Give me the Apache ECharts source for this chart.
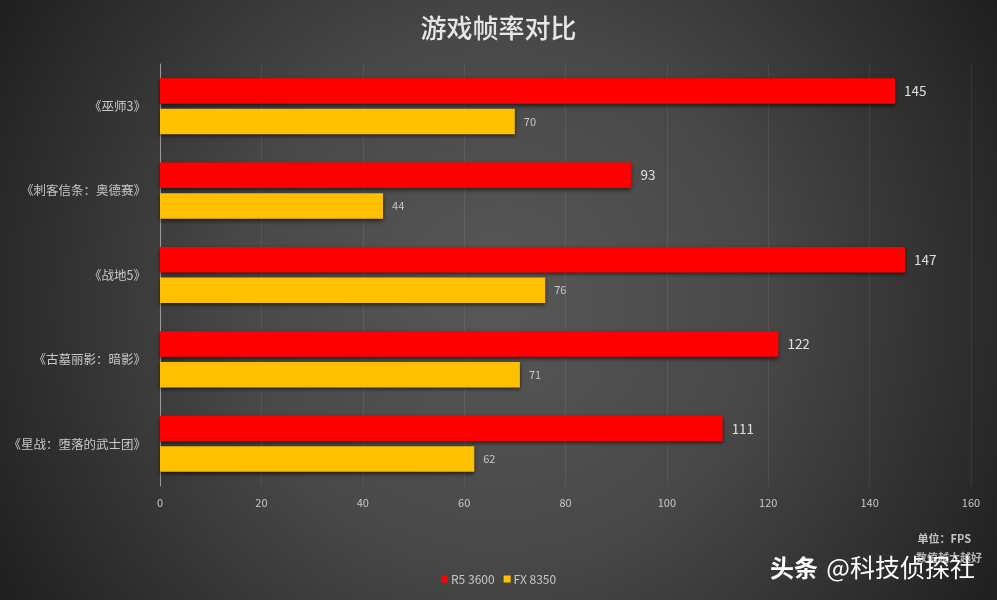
<!DOCTYPE html>
<html>
<head>
<meta charset="utf-8">
<title>游戏帧率对比</title>
<script src="https://cdn.jsdelivr.net/npm/echarts@6/dist/echarts.min.js"></script>
<style>
html, body { margin: 0; padding: 0; background: #333; }
#main { width: 997px; height: 600px; }
</style>
</head>
<body>
<div id="main"></div>
<script>
var games = ['《巫师3》', '《刺客信条：奥德赛》', '《战地5》', '《古墓丽影：暗影》', '《星战：堕落的武士团》'];
var r5 = [145, 93, 147, 122, 111];
var fx = [70, 44, 76, 71, 62];

var font = '"Noto Sans CJK SC", "Open Sans", sans-serif';
var myChart = echarts.init(document.getElementById('main'));

var option = {
    animation: false,
    backgroundColor: {
        type: 'radial',
        x: 0.5,
        y: 0.5,
        r: 0.97,
        colorStops: [
            { offset: 0, color: '#585858' },
            { offset: 0.45, color: '#484848' },
            { offset: 1, color: '#1f1f1f' }
        ]
    },
    textStyle: { fontFamily: font },
    title: {
        text: '游戏帧率对比',
        left: 'center',
        top: 10,
        textStyle: { color: '#e6e6e6', fontSize: 26, fontWeight: 500, fontFamily: font }
    },
    legend: {
        data: ['R5 3600', 'FX 8350'],
        left: 436,
        top: 568,
        itemWidth: 7,
        itemHeight: 7,
        itemGap: 9,
        icon: 'rect',
        textStyle: { color: '#c8c8c8', fontSize: 12, padding: [0, 0, 0, -2] }
    },
    grid: { left: 160, right: 26, top: 64, bottom: 114 },
    xAxis: {
        type: 'value',
        min: 0,
        max: 160,
        interval: 20,
        axisLine: { show: false },
        axisTick: { show: false },
        axisLabel: { color: '#c8c8c8', fontSize: 11, margin: 11 },
        splitLine: { show: true, lineStyle: { color: 'rgba(255,255,255,0.07)', width: 1 } }
    },
    yAxis: {
        type: 'category',
        inverse: true,
        data: games,
        axisLine: { show: true, lineStyle: { color: '#9a9a9a', width: 1 } },
        axisTick: { show: false },
        axisLabel: { color: '#c8c8c8', fontSize: 12.5, margin: 14 }
    },
    series: [
        {
            name: 'R5 3600',
            type: 'bar',
            data: r5,
            barWidth: 25.5,
            barGap: '20%',
            itemStyle: { color: '#ff0000', shadowColor: 'rgba(0,0,0,0.6)', shadowBlur: 4, shadowOffsetY: 2 },
            label: { show: true, position: 'right', distance: 9, color: '#e0e0e0', fontSize: 13.5 }
        },
        {
            name: 'FX 8350',
            type: 'bar',
            data: fx,
            barWidth: 25.5,
            itemStyle: { color: '#ffc000', shadowColor: 'rgba(0,0,0,0.6)', shadowBlur: 4, shadowOffsetY: 2 },
            label: { show: true, position: 'right', distance: 9, color: '#c8c8c8', fontSize: 11 }
        }
    ],
    graphic: [
        { type: 'text', right: 26, top: 533, style: { text: '单位：FPS', fill: '#c4c4c4', font: 'bold 11px ' + font } },
        { type: 'text', right: 15, top: 552, style: { text: '数值越大越好', fill: '#b4b4b4', font: 'bold 11px ' + font } },
        {
            type: 'text',
            left: 770,
            top: 555,
            z: 10,
            style: {
                text: '{a|头条} {b|@科技侦探社}',
                fill: '#ffffff',
                shadowColor: 'rgba(0,0,0,0.9)',
                shadowBlur: 2,
                shadowOffsetX: 1,
                shadowOffsetY: 1,
                rich: {
                    a: { fill: '#ffffff', font: 'bold 24px ' + font },
                    b: { fill: '#ffffff', font: '400 25px ' + font, padding: [0, 0, 0, 5] }
                }
            }
        }
    ]
};
myChart.setOption(option);
</script>
</body>
</html>
